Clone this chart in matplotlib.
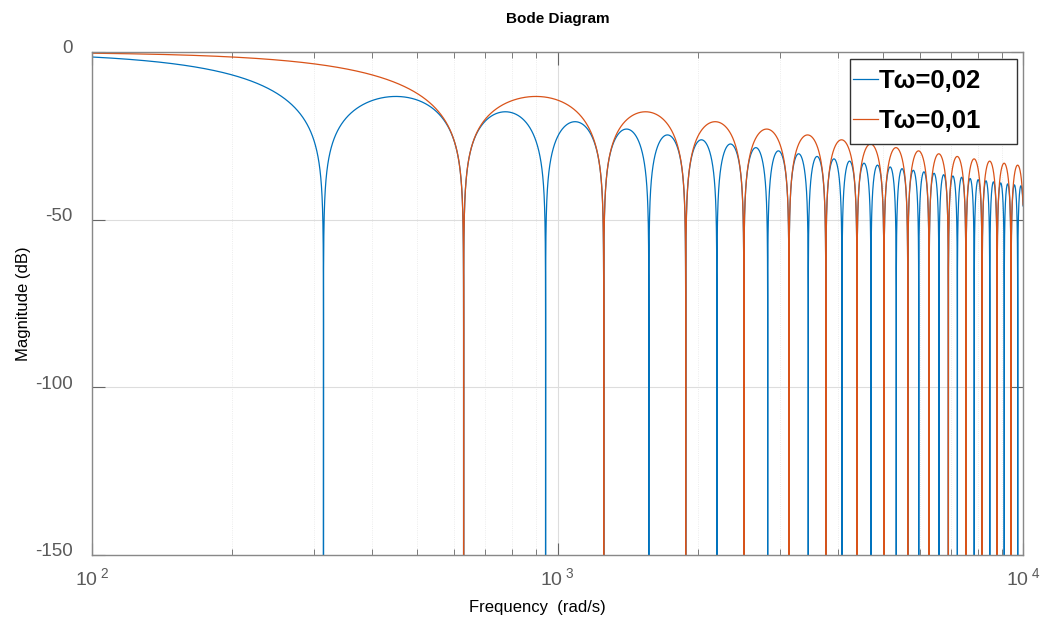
import matplotlib.pyplot as plt
import matplotlib.transforms as mtransforms
import numpy as np
from matplotlib.patches import Rectangle
from matplotlib.ticker import FixedLocator, FixedFormatter, LogLocator, NullFormatter

plt.rcParams['font.family'] = ['Liberation Sans', 'DejaVu Sans']
plt.rcParams['mathtext.fontset'] = 'custom'
plt.rcParams['mathtext.rm'] = 'Liberation Sans'

# sampling periods of the hold element (legend values)
T_values = [0.02, 0.01]
labels = ['T\u03c9=0,02', 'T\u03c9=0,01']
colors = ['#0072BD', '#D95319']

w_min, w_max = 1e2, 1e4
y_ticks = [0, -50, -100, -150]
x_ticks = [1e2, 1e3, 1e4]
x_ticklabels = [r'$\mathregular{10^{\;2}}$', r'$\mathregular{10^{\;3}}$', r'$\mathregular{10^{\;4}}$']

fig = plt.figure(figsize=(10.4, 6.21), dpi=100)
ax = fig.add_axes([0.0885, 0.1063, 0.8952, 0.81])

for T, lab, c in zip(T_values, labels, colors):
    w = np.logspace(2, 4, 60000)
    # include the exact zeros of the response so the notches reach the bottom
    k = np.arange(1, int(w_max * T / (2 * np.pi)) + 1)
    w = np.sort(np.concatenate([w, 2 * np.pi * k / T]))
    x = w * T / 2
    mag = np.abs(np.sin(x) / x)
    db = 20 * np.log10(np.maximum(mag, 1e-15))
    ax.semilogx(w, db, color=c, lw=0.9, label=lab)

ax.set_xlim(w_min, w_max)
ax.set_ylim(-150, 0)
ax.xaxis.set_major_locator(FixedLocator(x_ticks))
ax.xaxis.set_major_formatter(FixedFormatter(x_ticklabels))
ax.xaxis.set_minor_locator(LogLocator(base=10, subs=np.arange(2, 10)))
ax.xaxis.set_minor_formatter(NullFormatter())
ax.set_yticks(y_ticks)
ax.set_yticklabels(['0', '-50', '-100', '-150'])

ax.tick_params(which='both', direction='in', top=True, right=True,
               colors='#666666', labelcolor='#5a5a5a')
ax.tick_params(which='major', length=9)
ax.tick_params(which='minor', length=4)
ax.tick_params(axis='y', pad=14, labelsize=13.5)
ax.tick_params(axis='x', pad=9, labelsize=14)
# y tick labels sit a little above their ticks
up = mtransforms.ScaledTranslation(0, 5 / 100, fig.dpi_scale_trans)
for lbl in ax.get_yticklabels():
    lbl.set_transform(lbl.get_transform() + up)
for s in ax.spines.values():
    s.set_color('#888888')
    s.set_linewidth(1.0)

ax.grid(True, which='major', color='#dddddd', lw=0.8)
ax.grid(True, which='minor', axis='x', color='#e6e6e6', lw=0.6, ls=':')
ax.set_axisbelow(True)

ax.set_title('Bode Diagram', fontsize=11, fontweight='bold', pad=21)
ax.set_xlabel('Frequency  (rad/s)', fontsize=12)
ax.xaxis.set_label_coords(0.478, -0.09)
ax.set_ylabel('Magnitude (dB)', fontsize=12)
ax.yaxis.set_label_coords(-0.066, 0.5)

# legend frame drawn separately (MATLAB style: wide blank margin on the right)
ax.add_patch(Rectangle((0.814, 0.817), 0.1796, 0.169, transform=ax.transAxes,
                       facecolor='white', edgecolor='#333333', lw=1.0, zorder=4))
leg = ax.legend(loc='upper left', prop={'weight': 'bold', 'size': 18.5},
                handlelength=0.95, handletextpad=0.05, borderpad=0.4, labelspacing=0.62,
                borderaxespad=0, frameon=False, bbox_to_anchor=(0.8065, 0.986))
leg.set_zorder(5)

fig.savefig('out.png', dpi=100)
